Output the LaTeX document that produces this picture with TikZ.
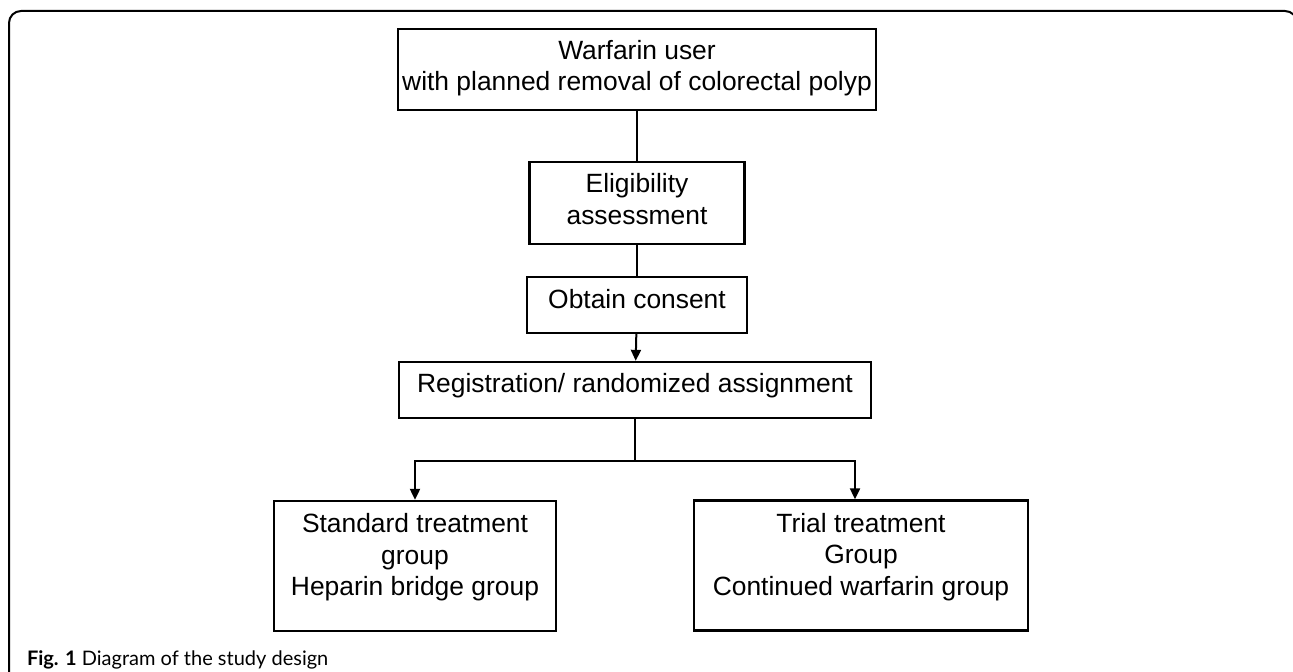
\documentclass[tikz,border=0pt]{standalone}
\usepackage{fontspec}
\setmainfont{Liberation Sans}
\newfontfamily\capfont{Lato}
\usetikzlibrary{arrows.meta,positioning,calc}
\tikzset{
  every picture/.style={line width=1pt},
  sbox/.style={draw, line width=1.15pt, align=center, inner sep=2pt,
               font=\fontsize{13.2pt}{15.75pt}\selectfont, text depth=4.2pt},
  sline/.style={line width=1pt},
  sarrow/.style={line width=1pt, -{Triangle[width=5pt,length=5.5pt]}},
  sframe/.style={line width=1pt, rounded corners=6pt},  % caption frame, bottom and right run off the page
  scaption/.style={font=\capfont\fontsize{10pt}{12pt}\selectfont, inner sep=0pt},
}

\begin{document}
\begin{tikzpicture}[x=0.5pt,y=-0.5pt]
  \clip (0,0) rectangle (1293,672);
  \draw[sframe] (9,700) -- (9,11) -- (1297,11) -- (1297,700);

  \node[sbox, minimum width=238pt, minimum height=40.5pt] (user)    at (637,69.5)
    {Warfarin user\\with planned removal of colorectal polyp};
  \node[sbox, minimum width=107.5pt, minimum height=41pt] (elig)    at (637,203)
    {Eligibility\\assessment};
  \node[sbox, minimum width=110pt, minimum height=28pt, text depth=5.6pt] (consent) at (637,305)
    {Obtain consent};
  \node[sbox, minimum width=236pt, minimum height=28pt, text depth=6.6pt] (regist)  at (635,390)
    {Registration/ randomized assignment};
  \node[sbox, minimum width=141pt, minimum height=65pt, text depth=11.5pt] (stdgrp) at (415,566)
    {Standard treatment\\group\\Heparin bridge group};
  \node[sbox, minimum width=167pt, minimum height=65pt, text depth=11.5pt] (trialgrp) at (861,565.5)
    {Trial treatment\\Group\\Continued warfarin group};

  \draw[sline]  (user)    -- (elig);
  \draw[sline]  (elig)    -- (consent);
  \draw[sarrow] (consent) -- (regist);
  \coordinate (split) at ([yshift=-21pt]regist.south);
  \draw[sline]  (regist.south) -- (split);
  \draw[sarrow] (split) -| (stdgrp.north);
  \draw[sarrow] (split) -| ([xshift=-3pt]trialgrp.north);

  \node[scaption, anchor=base west] (caption) at (26,665)
    {\textbf{Fig. 1} Diagram of the study design};
\end{tikzpicture}
\end{document}
